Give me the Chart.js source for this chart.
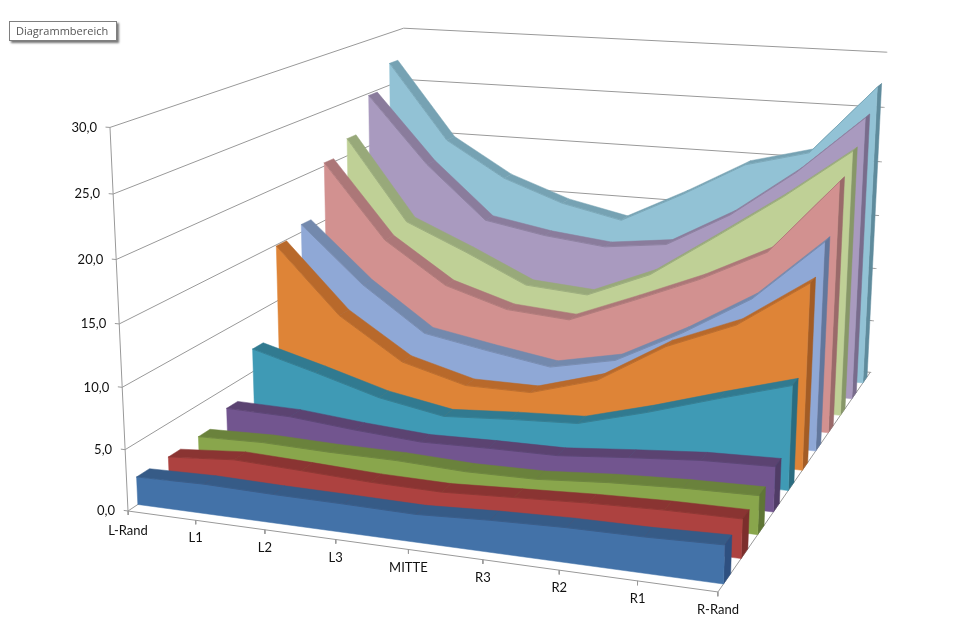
<!DOCTYPE html>
<html>
<head>
<meta charset="utf-8">
<title>Diagrammbereich</title>
<script src="https://cdn.jsdelivr.net/npm/chart.js@4/dist/chart.umd.js"></script>
<style>
    html, body { margin: 0; padding: 0; background: #fff; overflow: hidden; }
    #wrap { position: relative; width: 967px; height: 640px; }
    #hint {
        position: absolute; left: 9px; top: 21px; width: 106px; height: 18px;
        border: 1px solid #7f7f7f; background: #fff; box-shadow: 2px 2px 2px #777;
        font: 11px "Open Sans", sans-serif; color: #555; line-height: 18px; text-indent: 6px;
    }
</style>
</head>
<body>
<div id="wrap">
    <canvas id="chart" width="967" height="640"></canvas>
    <div id="hint">Diagrammbereich</div>
</div>
<script>
const categories = ["L-Rand", "L1", "L2", "L3", "MITTE", "R3", "R2", "R1", "R-Rand"];
const valueTicks = [0, 5, 10, 15, 20, 25, 30];

// vorne nach hinten
const series1 = [2.27, 2.4, 2.3, 2.27, 2.2, 2.5, 2.7, 2.76, 2.95];
const series2 = [2.24, 2.7, 2.5, 2.27, 2.2, 2.5, 2.8, 3.0, 3.07];
const series3 = [2.33, 2.5, 2.37, 2.36, 2.14, 2.23, 2.68, 2.96, 3.1];
const series4 = [3.22, 3.13, 2.64, 2.28, 2.43, 2.5, 3.03, 3.5, 3.69];
const series5 = [7.0, 5.5, 3.9, 2.9, 3.3, 3.6, 5.2, 7.0, 8.7];
const series6 = [14.9, 9.2, 5.6, 4.1, 4.1, 5.8, 9.3, 11.7, 15.7];
const series7 = [15.7, 10.7, 6.8, 5.8, 4.9, 6.1, 9.1, 12.6, 17.9];
const series8 = [20.3, 13.6, 9.9, 8.2, 7.8, 10.1, 12.5, 15.4, 21.9];
const series9 = [21.6, 14.2, 11.8, 9.2, 8.8, 11.2, 15.1, 19.1, 23.5];
const series10 = [24.8, 18.6, 13.7, 12.7, 12.1, 12.8, 16.0, 20.3, 25.5];
const series11 = [27.1, 20.0, 16.7, 14.7, 13.5, 16.4, 19.6, 21.1, 27.4];
const allSeries = [series1, series2, series3, series4, series5, series6, series7, series8, series9, series10, series11];

const frontColors = ["#4372a8", "#ad4240", "#89a64c", "#72558f", "#3f9ab5", "#de8437", "#8fa8d6", "#d29190", "#bfd096", "#a99abf", "#92c2d5"];
const topColors = ["#365b87", "#8a3432", "#6a823c", "#5b4371", "#317a90", "#b8692b", "#7389ad", "#ac7778", "#98a97a", "#8a7c9c", "#76a2b3"];
const sideColors = ["#2e5080", "#7c2e2c", "#5f7635", "#503c66", "#2a6c80", "#a35c25", "#62779c", "#9a6a6a", "#879768", "#796c8c", "#5f8b9c"];

const yMax = 30;
const slot = 1 / allSeries.length;
const gridColor = "#999999";

// perspektive der 3D-box: x = kategorie, y = wert, z = tiefe (je 0..1)
function project(x, y, z) {
    const w = 1 - 0.09425 * x - 0.04813 * y + 0.3035 * z;
    return {
        x: (128 + 522.3 * x - 23.3 * y + 402 * z) / w,
        y: (511 + 25.16 * x - 389.7 * y - 85.9 * z) / w,
    };
}

const datasets = [];

function addShape(points, color) {
    points.push(points[0]);
    datasets.push({
        data: points, showLine: true, fill: "shape", backgroundColor: color,
        borderColor: color, borderWidth: 0.5, pointRadius: 0, tension: 0,
    });
}

function addLine(points, color, width = 1) {
    datasets.push({
        data: points, showLine: true, fill: false, borderColor: color,
        borderWidth: width, pointRadius: 0, tension: 0,
    });
}

// gitter und achsen
valueTicks.forEach((v) => {
    const y = v / yMax;
    addLine([project(-0.008, y, 0), project(0, y, 0), project(0, y, 1), project(1, y, 1), project(1.002, y, 1)], gridColor);
});
addLine([project(0, 0, 0), project(0, 1, 0)], gridColor);
addLine([project(0, 0, 0), project(1, 0, 0), project(1, 0, 1)], gridColor);
categories.forEach((c, j) => {
    const x = j / (categories.length - 1);
    addLine([project(x, 0, 0), project(x, -0.011, 0)], gridColor);
});

// flächen von hinten nach vorne
for (let i = allSeries.length - 1; i >= 0; i--) {
    const values = allSeries[i];
    const last = values.length - 1;
    const zFront = (i + 0.3) * slot;
    const zBack = (i + 0.7) * slot;

    for (let j = 0; j < last; j++) {
        addShape([
            project(j / last, values[j] / yMax, zFront),
            project((j + 1) / last, values[j + 1] / yMax, zFront),
            project((j + 1) / last, values[j + 1] / yMax, zBack),
            project(j / last, values[j] / yMax, zBack),
        ], topColors[i]);
    }

    addShape([
        project(1, 0, zFront),
        project(1, 0, zBack),
        project(1, values[last] / yMax, zBack),
        project(1, values[last] / yMax, zFront),
    ], sideColors[i]);

    const edge = values.map((v, j) => project(j / last, v / yMax, zFront));
    addShape(edge.concat([project(1, 0, zFront), project(0, 0, zFront)]), frontColors[i]);
    addLine(edge, topColors[i], 0.8);
}

// Chart.js malt dataset 0 zuletzt
datasets.reverse();

const axisLabels = {
    id: "axisLabels",
    afterDraw(chart) {
        const { ctx, scales } = chart;
        ctx.save();
        ctx.font = '13px Lato, sans-serif';
        ctx.fillStyle = "#111";
        ctx.textBaseline = "middle";

        ctx.textAlign = "right";
        valueTicks.forEach((v) => {
            const p = project(0, v / yMax, 0);
            ctx.fillText(v.toFixed(1).replace(".", ","), scales.x.getPixelForValue(p.x) - 13, scales.y.getPixelForValue(p.y));
        });

        ctx.textAlign = "center";
        categories.forEach((c, j) => {
            const p = project(j / (categories.length - 1), 0, 0);
            const gap = j === 0 ? 20 : 18;
            ctx.fillText(c, scales.x.getPixelForValue(p.x), scales.y.getPixelForValue(p.y) + gap);
        });
        ctx.restore();
    },
};

new Chart(document.getElementById("chart"), {
    type: "scatter",
    data: { datasets },
    plugins: [axisLabels],
    options: {
        responsive: false,
        animation: false,
        devicePixelRatio: 1,
        layout: { padding: 0 },
        plugins: { legend: { display: false }, tooltip: { enabled: false } },
        scales: {
            x: { type: "linear", display: false, min: 0, max: 967 },
            y: { type: "linear", display: false, min: 0, max: 640, reverse: true },
        },
    },
});
</script>
</body>
</html>
